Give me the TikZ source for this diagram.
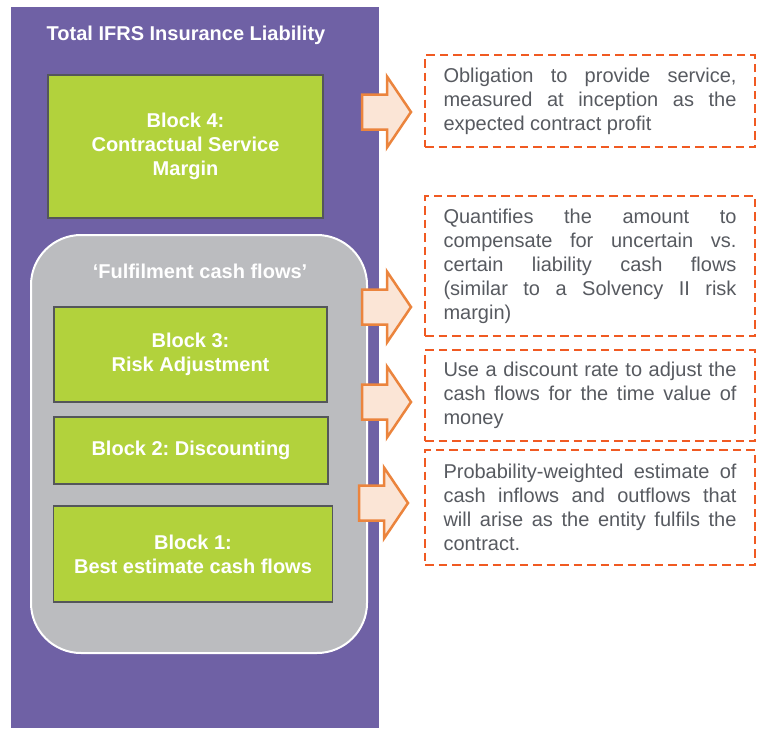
\documentclass[tikz,border=0pt]{standalone}
\usepackage{fontspec}
\setmainfont{Liberation Sans}
\usetikzlibrary{positioning}
\definecolor{liabpurple}{HTML}{6F61A5}
\definecolor{blockgreen}{HTML}{B2D23C}
\definecolor{blockedge}{HTML}{54565A}
\definecolor{fcfgray}{HTML}{BBBCBF}
\definecolor{arrowedge}{HTML}{EB843D}
\definecolor{arrowfill}{HTML}{FBE5D6}
\definecolor{notedash}{HTML}{F05A22}
\definecolor{notetext}{HTML}{575A60}
\frenchspacing

\begin{document}
\begin{tikzpicture}[
    x=1pt, y=-1pt,
    block/.style={rectangle, draw=blockedge, fill=blockgreen, line width=1.8pt,
                  text=white, align=center, inner sep=0pt,
                  font=\fontsize{20}{24}\selectfont\bfseries},
    note/.style={rectangle, draw=notedash, dash pattern=on 8.5pt off 5pt,
                 line width=2.2pt, text=notetext, text width=293pt, align=justify,
                 inner xsep=18.5pt, inner ysep=0pt, minimum width=330pt,
                 font=\fontsize{20}{24}\selectfont},
    heading/.style={text=white, font=\fontsize{20}{24}\selectfont\bfseries},
    blkarrow/.pic={
        \draw[draw=arrowedge, fill=arrowfill, line width=2.5pt, line join=miter]
            (-49,-17.5) -- (-24,-17.5) -- (-24,-35.5) -- (0,0) -- (-24,35.5)
            -- (-24,17.5) -- (-49,17.5) -- cycle;
    }
]
    \useasboundingbox (0,0) rectangle (757,728);

    % total liability column
    \node[rectangle, fill=liabpurple, minimum width=368pt, minimum height=721pt,
          inner sep=0pt] (liab) at (195,367.5) {};
    \node[heading] (title) at (186,35) {Total IFRS Insurance Liability};
    \node[block, minimum width=275pt, minimum height=143pt] (blk4) at (185.5,146.5)
        {Block 4:\\Contractual Service\\Margin};

    % fulfilment cash flows
    \node[rectangle, rounded corners=50pt, draw=white, line width=2pt, fill=fcfgray,
          minimum width=336pt, minimum height=418pt, inner sep=0pt] (fcf) at (199,444) {};
    \node[heading] (fcftitle) at (200,271) {‘Fulfilment cash flows’};
    \node[block, minimum width=273pt, minimum height=95pt] (blk3) at (190.5,354.5)
        {Block 3:\\Risk Adjustment};
    \node[block, minimum width=274pt, minimum height=67pt] (blk2) at (191,450.5)
        {Block 2: Discounting};
    \node[block, minimum width=279pt, minimum height=96pt] (blk1) at (193,554)
        {Block 1:\\Best estimate cash flows};

    % explanations
    \node[note, minimum height=92pt] (csm) at (590,101)
        {Obligation to provide service,\linebreak measured at inception as the\linebreak expected contract profit};
    \node[note, minimum height=140pt] (ra) at (590,266)
        {Quantifies the amount to\linebreak compensate for uncertain vs.\linebreak certain liability cash flows\linebreak (similar to a Solvency II risk\linebreak margin)};
    \node[note, minimum height=91pt] (disc) at (590,395.5)
        {Use a discount rate to adjust the\linebreak cash flows for the time value of\linebreak money};
    \node[note, minimum height=115pt] (bel) at (590,507.5)
        {Probability-weighted estimate of\linebreak cash inflows and outflows that\linebreak will arise as the entity fulfils the\linebreak contract.};

    \pic at (411,112) {blkarrow};
    \pic at (411,307) {blkarrow};
    \pic at (411,402) {blkarrow};
    \pic at (408,503) {blkarrow};
\end{tikzpicture}
\end{document}
